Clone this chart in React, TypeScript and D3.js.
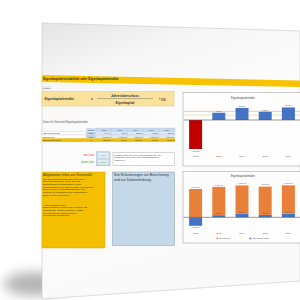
import React from 'react';
import * as d3 from 'd3';

const years = ['2012', '2013', '2014', '2015', '2016'];
const jahresueberschuss = [-300, 75, 125, 85, 130];
const eigenkapital = [1000, 1000, 1000, 1000, 1000];
const rendite = [-30, 7.5, 12.5, 8.5, 13];
const roteLinie = 9;
const grueneLinie = 5;
const tableLabels = ['Jahresüberschuss', 'Eigenkapital', 'Eigenkapitalrendite'];
const tableUnits = ['Wert', 'Wert', '%'];
const legendLabels = ['Eigenkapital', 'Jahresüberschuss'];
const infoTitle = 'Allgemeine Infos zur Kennzahl:';
const infoLines1 = [
  'Die Eigenkapitalrentabilität oder auch',
  'Eigenkapitalrendite zeigt, wie das',
  'Eigenkapital bei Eigentümer eines',
  'Unternehmens von Jahr zu Jahr verzinst wird.',
  'Dazu wird der Jahresüberschuss oder',
  'Gewinn im Verhältnis zum eingesetzten',
  'Eigenkapital dargestellt.',
];
const infoLines2 = [
  'Andere Begriffe sind:',
  'Eigenkapitalverzinsung, EK-Rendite, EK-',
  'Rentabilität, Return on Equity (ROE),',
  'Rentabilität des Eigenkapitals,',
  'Unternehmerrentabilität',
];
const noteLines = ['Ihre Erläuterungen zur Berechnung', 'und zur Datenerhebung:'];
const descLines = [
  'Definieren Sie hier zum Vergleich Sollwerte, um',
  'bestimmte Werte über Linien im Diagramm zu',
  'markieren.',
];

const locale = d3.formatLocale({ decimal: ',', thousands: '.', grouping: [3], currency: ['', ' €'] });
const fmt2 = locale.format(',.2f');
const pct = (v: number) => fmt2(v) + '%';

const FONT = 'Liberation Sans, Arial, sans-serif';

export default function App() {
  // chart 1
  const x = d3.scaleBand<string>().domain(years).range([184, 300]).paddingInner(0.44).paddingOuter(0.22);
  const y1 = d3.scaleLinear().domain([-30, 0]).range([149, 120]);
  // chart 2
  const y2 = d3.scaleLinear().domain([0, 1000]).range([217.3, 189]);
  const stackData = years.map((yr, i) => ({ year: yr, jue: jahresueberschuss[i], ek: eigenkapital[i] }));
  const series = d3.stack<any>().keys(['jue', 'ek']).offset(d3.stackOffsetDiverging)(stackData);
  const colors: Record<string, string> = { jue: '#4472c4', ek: '#e8803a' };

  // table
  const yearCol0 = 96;
  const yearColW = 15.8;
  const rowY = [131.6, 135, 138.4];
  const rowH = [3.4, 3.4, 3.5];
  const rowValues = [
    jahresueberschuss.map((v) => fmt2(v)),
    eigenkapital.map((v) => fmt2(v)),
    rendite.map((v) => pct(v)),
  ];

  const bw = x.bandwidth();

  return (
    <svg width={300} height={300} style={{ position: 'fixed', left: 0, top: 0 }} fontFamily={FONT}>
      <defs>
        <linearGradient id="pageGrad" x1="0" y1="0" x2="0.3" y2="1">
          <stop offset="0" stopColor="#e4e4e4" />
          <stop offset="0.2" stopColor="#f6f6f6" />
          <stop offset="0.45" stopColor="#fcfcfc" />
          <stop offset="1" stopColor="#f9f9f9" />
        </linearGradient>
        <filter id="blur" x="-50%" y="-50%" width="200%" height="200%">
          <feGaussianBlur stdDeviation="6" />
        </filter>
      </defs>
      <rect width={300} height={300} fill="#ffffff" />
      {/* shadow */}
      <ellipse cx={34} cy={284} rx={30} ry={12} fill="#a8a8a8" opacity={0.85} filter="url(#blur)" />
      {/* page */}
      <polygon points="42,23 300,31 300,281 42,299" fill="url(#pageGrad)" stroke="#c8c8c8" strokeWidth={0.6} />

      {/* title band */}
      <polygon points="42,75 300,80.5 300,87 42,82" fill="#f7c200" />
      <text x={43} y={80.2} fontSize={3.3} fontWeight="bold" fill="#333">
        Eigenkapitalrentabilität oder Eigenkapitalrendite
      </text>
      <rect x={42} y={86} width={9} height={3.4} fill="#e8e8e8" />
      <text x={43} y={88.8} fontSize={2.4} fill="#555">Formel:</text>

      {/* formula box */}
      <rect x={42} y={91.5} width={132} height={14.5} fill="#fbe29c" stroke="#e3c46a" strokeWidth={0.5} />
      <text x={44.5} y={100.3} fontSize={3.2} fontWeight="bold" fill="#333">Eigenkapitalrendite</text>
      <text x={91} y={100.3} fontSize={3.2} fontWeight="bold" fill="#333">=</text>
      <text x={125} y={96.6} fontSize={3.2} fontWeight="bold" fill="#333" textAnchor="middle">Jahresüberschuss</text>
      <line x1={97} x2={153} y1={98.6} y2={98.6} stroke="#555" strokeWidth={0.4} />
      <text x={125} y={103.6} fontSize={3.2} fontWeight="bold" fill="#333" textAnchor="middle">Eigenkapital</text>
      <text x={159} y={100.8} fontSize={2.8} fontWeight="bold" fill="#333">* 100</text>

      {/* table */}
      <text x={43} y={123} fontSize={2.6} fill="#555">Daten für Kennzahl Eigenkapitalrendite</text>
      <rect x={86} y={128} width={10} height={3.6} fill="#c5d9f1" stroke="#ffffff" strokeWidth={0.3} />
      <text x={91} y={130.7} fontSize={2} fill="#444" textAnchor="middle">Einheit</text>
      {years.map((yr, i) => (
        <g key={'h' + yr}>
          <rect x={yearCol0 + i * yearColW} y={128} width={yearColW} height={3.6} fill="#c5d9f1" stroke="#9fb8d6" strokeWidth={0.25} />
          <text x={yearCol0 + i * yearColW + yearColW / 2} y={130.7} fontSize={2} fill="#444" textAnchor="middle">{yr}</text>
        </g>
      ))}
      {tableLabels.map((lab, r) => (
        <g key={'r' + r}>
          {r === 2 ? (
            <rect x={42} y={rowY[r]} width={133} height={rowH[r]} fill="#f5bd00" />
          ) : (
            <>
              <rect x={42} y={rowY[r]} width={44} height={rowH[r]} fill="#ffffff" stroke="#b8b8b8" strokeWidth={0.25} />
              <rect x={86} y={rowY[r]} width={10} height={rowH[r]} fill="#b7cde8" stroke="#ffffff" strokeWidth={0.3} />
            </>
          )}
          <text x={43} y={rowY[r] + 2.6} fontSize={2.1} fill="#333">{lab}</text>
          <text x={91} y={rowY[r] + 2.6} fontSize={2.1} fill="#333" textAnchor="middle">{tableUnits[r]}</text>
          {rowValues[r].map((v, i) => (
            <g key={'c' + i}>
              {r !== 2 && (
                <rect x={yearCol0 + i * yearColW} y={rowY[r]} width={yearColW} height={rowH[r]} fill="#dde8f4" stroke="#b0c4dc" strokeWidth={0.25} />
              )}
              <text
                x={yearCol0 + (i + 1) * yearColW - 1}
                y={rowY[r] + 2.6}
                fontSize={2.1}
                fill={r === 0 && jahresueberschuss[i] < 0 ? '#e03030' : '#333'}
                textAnchor="end"
              >
                {v}
              </text>
            </g>
          ))}
        </g>
      ))}

      {/* line definitions */}
      <text x={94} y={155.8} fontSize={2.6} fill="#e23b3b" textAnchor="end">rote Linie</text>
      <text x={94} y={162.8} fontSize={2.6} fill="#2f9a3a" textAnchor="end">grüne Linie</text>
      <rect x={96.5} y={151.8} width={13.5} height={14} fill="#c7dbec" stroke="#8fa8bf" strokeWidth={0.4} />
      <rect x={98.3} y={153} width={10} height={4.6} fill="#e2edf7" />
      <rect x={98.3} y={160} width={10} height={4.6} fill="#e2edf7" />
      <text x={103.3} y={156} fontSize={2.2} fill="#e23b3b" textAnchor="middle">{pct(roteLinie)}</text>
      <text x={103.3} y={163} fontSize={2.2} fill="#2f9a3a" textAnchor="middle">{pct(grueneLinie)}</text>
      <rect x={113} y={152.3} width={61.5} height={13.3} fill="#ffffff" stroke="#9a9a9a" strokeWidth={0.4} />
      {descLines.map((l, i) => (
        <text key={'d' + i} x={114.5} y={155.6 + i * 2.7} fontSize={2.2} fill="#333">{l}</text>
      ))}

      {/* info boxes */}
      <rect x={42} y={172} width={63} height={76} fill="#f4bf00" stroke="#c9a200" strokeWidth={0.4} />
      <text x={43} y={176.2} fontSize={3.6} fill="#333">{infoTitle}</text>
      {infoLines1.map((l, i) => (
        <text key={'i1' + i} x={43} y={179.8 + i * 2.65} fontSize={2.5} fill="#333">{l}</text>
      ))}
      {infoLines2.map((l, i) => (
        <text key={'i2' + i} x={43} y={205.6 + i * 2.65} fontSize={2.5} fill="#333">{l}</text>
      ))}
      <rect x={112.5} y={172} width={62} height={73.5} fill="#c3d8e8" stroke="#8b9aa6" strokeWidth={0.5} />
      {noteLines.map((l, i) => (
        <text key={'n' + i} x={114} y={176.2 + i * 4.3} fontSize={3.5} fill="#333">{l}</text>
      ))}

      {/* chart 1 */}
      <rect x={183} y={92.5} width={118} height={73.5} fill="#fdfdfd" stroke="#a8a8a8" strokeWidth={0.6} />
      <text x={243} y={98.6} fontSize={2.8} fill="#444" textAnchor="middle">Eigenkapitalrendite</text>
      <line x1={183.5} x2={300} y1={y1(roteLinie)} y2={y1(roteLinie)} stroke="#eab29c" strokeWidth={0.7} />
      <line x1={183.5} x2={300} y1={y1(grueneLinie)} y2={y1(grueneLinie)} stroke="#f0dc80" strokeWidth={0.7} />
      {years.map((yr, i) => {
        const v = rendite[i];
        const top = Math.min(y1(v), y1(0));
        const h = Math.abs(y1(v) - y1(0));
        const xx = x(yr)!;
        return (
          <g key={'b1' + yr}>
            <rect x={xx} y={top} width={bw} height={h} fill={v < 0 ? '#c00000' : '#4472c4'} />
            <text
              x={xx + bw / 2}
              y={v < 0 ? y1(v) + 2.6 : y1(v) - 1.2}
              fontSize={2.1}
              fill="#444"
              textAnchor="middle"
            >
              {pct(v)}
            </text>
            <text x={xx + bw / 2} y={157} fontSize={2.4} fill="#555" textAnchor="middle">{yr}</text>
          </g>
        );
      })}
      <line x1={183.5} x2={300} y1={y1(0)} y2={y1(0)} stroke="#555" strokeWidth={0.6} />

      {/* chart 2 */}
      <rect x={183} y={171.5} width={118} height={71.5} fill="#fdfdfd" stroke="#a8a8a8" strokeWidth={0.6} />
      <text x={243} y={176.5} fontSize={2.8} fill="#444" textAnchor="middle">Eigenkapitalrendite</text>
      {series.map((s) => (
        <g key={s.key}>
          {s.map((d: any, i: number) => {
            const xx = x(years[i])!;
            const top = y2(Math.max(d[0], d[1]));
            const bot = y2(Math.min(d[0], d[1]));
            return <rect key={i} x={xx} y={top} width={bw} height={bot - top} fill={colors[s.key]} />;
          })}
        </g>
      ))}
      {series.map((s) =>
        s.map((d: any, i: number) => {
          const xx = x(years[i])! + bw / 2;
          const val = s.key === 'ek' ? eigenkapital[i] : jahresueberschuss[i];
          let ty: number;
          if (s.key === 'ek') ty = y2(d[1]) - 1.2;
          else if (val < 0) ty = y2(d[0]) + 2.6;
          else ty = y2(d[1]) - 0.8;
          return (
            <text key={s.key + 'l' + i} x={xx} y={ty} fontSize={2.1} fill="#444" textAnchor="middle">
              {fmt2(val)}
            </text>
          );
        })
      )}
      <line x1={183.5} x2={300} y1={y2(0)} y2={y2(0)} stroke="#555" strokeWidth={0.6} />
      {years.map((yr) => (
        <text key={'y2' + yr} x={x(yr)! + bw / 2} y={233.5} fontSize={2.4} fill="#555" textAnchor="middle">{yr}</text>
      ))}
      <rect x={216.5} y={237.6} width={1.6} height={1.6} fill={colors.ek} />
      <text x={219} y={239.2} fontSize={2.1} fill="#555">{legendLabels[0]}</text>
      <rect x={249.5} y={237.6} width={1.6} height={1.6} fill={colors.jue} />
      <text x={252} y={239.2} fontSize={2.1} fill="#555">{legendLabels[1]}</text>
    </svg>
  );
}
